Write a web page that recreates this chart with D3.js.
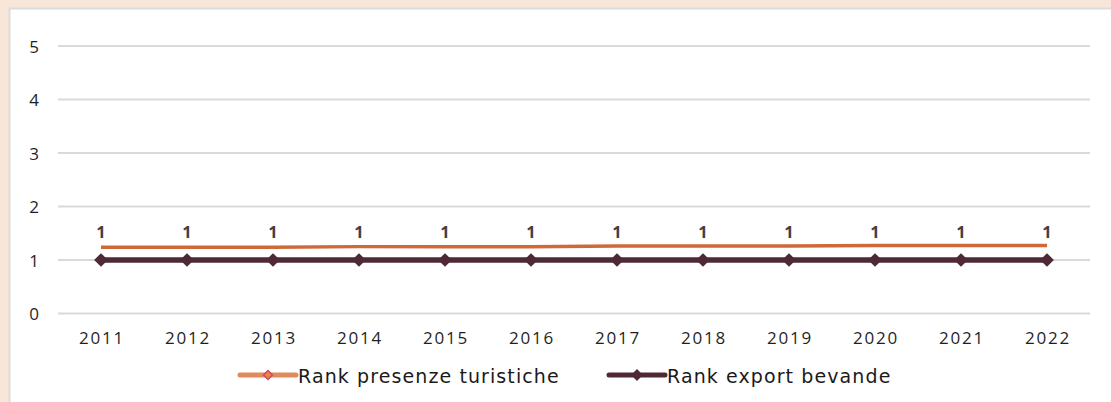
<!DOCTYPE html>
<html><head><meta charset="utf-8">
<script src="https://cdn.jsdelivr.net/npm/d3@7"></script>
<style>body{margin:0;background:#f8e7d8;} svg{display:block;}</style>
</head><body>
<svg id="c" width="1111" height="402"></svg>
<script>
const years = ["2011","2012","2013","2014","2015","2016","2017","2018","2019","2020","2021","2022"];
const rankPresenze = [1.24,1.24,1.24,1.25,1.25,1.25,1.26,1.26,1.26,1.27,1.27,1.27];
const rankExport = [1,1,1,1,1,1,1,1,1,1,1,1];
const dataLabels = ["1","1","1","1","1","1","1","1","1","1","1","1"];
const yTicks = [0,1,2,3,4,5];
const seriesNames = ["Rank presenze turistiche","Rank export bevande"];

const svg = d3.select("#c");
svg.append("rect").attr("x",0).attr("y",0).attr("width",1111).attr("height",402).attr("fill","#f8e7d8");
svg.append("rect").attr("x",9.5).attr("y",8.5).attr("width",1110).attr("height",400)
  .attr("fill","#fff").attr("stroke","#dcdcdc").attr("stroke-width",2);

const x = d3.scaleBand().domain(years).range([58,1090]);
const y = d3.scaleLinear().domain([0,5]).range([313.5,46]);
const font = "'Open Sans', sans-serif";
const lfont = "'DejaVu Sans', Verdana, sans-serif";

// gridlines
svg.append("g").selectAll("line").data(yTicks).join("line")
  .attr("x1",58).attr("x2",1090).attr("y1",d=>y(d)).attr("y2",d=>y(d))
  .attr("stroke","#d9d9d9").attr("stroke-width",2);
// y labels
svg.append("g").selectAll("text").data(yTicks).join("text")
  .attr("x",39).attr("y",d=>y(d)+1).attr("dy","0.35em").attr("text-anchor","end")
  .attr("font-family",font).attr("font-size",17).attr("fill","#1f1f1f").text(d=>d);
// x labels
svg.append("g").selectAll("text").data(years).join("text")
  .attr("x",d=>x(d)+x.bandwidth()/2+1).attr("y",338.5).attr("dy","0.35em").attr("text-anchor","middle")
  .attr("font-family",font).attr("font-size",17).attr("letter-spacing",1.8).attr("fill","#1f1f1f").text(d=>d);

const cx = d=>x(d)+x.bandwidth()/2;
const line1 = d3.line().x((d,i)=>cx(years[i])).y(d=>y(d));
svg.append("path").datum(rankPresenze).attr("d",line1).attr("fill","none")
  .attr("stroke","#d0693a").attr("stroke-width",3.5);
svg.append("path").datum(rankExport).attr("d",line1).attr("fill","none")
  .attr("stroke","#4f2a34").attr("stroke-width",5.5);
const diamond = d3.symbol().type(d3.symbolDiamond2).size(120);
svg.append("g").selectAll("path").data(rankExport).join("path")
  .attr("d",diamond).attr("transform",(d,i)=>`translate(${cx(years[i])},${y(d)})`)
  .attr("fill","#4f2a34");
// data labels
svg.append("g").selectAll("text").data(dataLabels).join("text")
  .attr("x",(d,i)=>cx(years[i])).attr("y",232).attr("dy","0.35em").attr("text-anchor","middle")
  .attr("font-family",font).attr("font-size",16.5).attr("font-weight","bold").attr("fill","#404040").text(d=>d);

// legend
const lg = svg.append("g");
const leg = [{x:240,color:"#e08b5c",mfill:"#e8893a",mstroke:"#d6436b",msize:50,name:seriesNames[0]},
             {x:609,color:"#4f2a34",mfill:"#4f2a34",mstroke:"#4f2a34",msize:60,name:seriesNames[1]}];
leg.forEach(l=>{
  lg.append("line").attr("x1",l.x).attr("x2",l.x+56).attr("y1",375).attr("y2",375)
    .attr("stroke",l.color).attr("stroke-width",5).attr("stroke-linecap","round");
  lg.append("path").attr("d",d3.symbol().type(d3.symbolDiamond2).size(l.msize)())
    .attr("transform",`translate(${l.x+28},375)`).attr("fill",l.mfill).attr("stroke",l.mstroke).attr("stroke-width",1.5);
  lg.append("text").attr("x",l.x+58).attr("y",376.5).attr("dy","0.35em")
    .attr("font-family",lfont).attr("font-size",19).attr("letter-spacing",1.1).attr("fill","#1a1a1a").text(l.name);
});
</script>
</body></html>
